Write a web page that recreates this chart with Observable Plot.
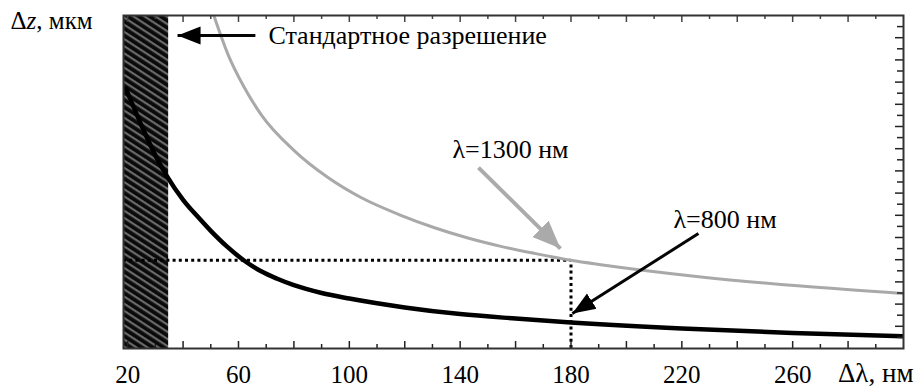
<!DOCTYPE html>
<html><head><meta charset="utf-8">
<script src="https://cdn.jsdelivr.net/npm/d3@7"></script>
<script src="https://cdn.jsdelivr.net/npm/@observablehq/plot@0.6"></script>
<style>
html,body{margin:0;padding:0;background:#fff;}
#chart{width:914px;height:387px;}
#chart svg text, #chart svg tspan{font-family:"Liberation Serif","Tinos","DejaVu Serif","Noto Serif","Times New Roman",Times,serif !important;}
</style></head><body><div id="chart"></div>
<script>
// ---- data (Δz in arbitrary units, axis is unlabeled) ----
const dlBlack = [19.4, 25, 30, 34, 40, 45, 50, 56, 62, 68, 74, 80, 90, 100, 120, 140, 160, 180, 220, 260, 300];
const dzBlack = [23.4, 20.1, 17.4, 15.6, 13.4, 11.95, 10.6, 9.15, 7.93, 6.98, 6.28, 5.7, 5.0, 4.5, 3.7, 3.1, 2.7, 2.35, 1.8, 1.4, 1.1];
const dlGray = [51.1, 56.2, 61.9, 68.1, 80, 92.3, 104.2, 118.6, 130.5, 142.8, 154.7, 166.6, 180, 190.8, 226.9, 263, 300];
const dzGray = [30, 26.5, 23.6, 21.1, 17.85, 15.4, 13.6, 12.0, 10.9, 9.95, 9.2, 8.58, 7.95, 7.55, 6.45, 5.62, 4.95];
const standardRange = [18.5, 34.8];
const refDl = 180, refDz = 7.95;
const xDomain = [18.5, 300], yDomain = [0, 30];
const xTickLabels = [20, 60, 100, 140, 180, 220, 260];
const xMajorTicks = [20, 40, 60, 80, 100, 120, 140, 160, 180, 200, 220, 240, 260, 280];
const xMinorTicks = [30, 50, 70, 90, 110, 130, 150, 170, 190, 210, 230, 250, 270, 290];
const yTicks = d3.range(1, 30);
const annoText = ["Стандартное разрешение", "λ=1300 нм", "λ=800 нм"];
const annoX = [70.8, 137.2, 217];
const annoY = [28.2, 17.9, 11.58];
const blackArrows = [
  {x1: 66.1, y1: 28.2, x2: 38.0, y2: 28.2},
  {x1: 226, y1: 10.36, x2: 180.5, y2: 3.15}
];
const grayArrows = [
  {x1: 146.6, y1: 16.3, x2: 176.2, y2: 9.0}
];
const xTitle = "Δλ, нм", yTitle = "Δz, мкм";

// ---- layout ----
const W = 914, H = 387, mL = 123, mR = 11, mT = 15, mB = 39;
const pxX = (W - mL - mR) / (xDomain[1] - xDomain[0]);
const pxY = (H - mT - mB) / (yDomain[1] - yDomain[0]);
const black = dlBlack.map((x, i) => ({x, y: dzBlack[i]}));
const gray = dlGray.map((x, i) => ({x, y: dzGray[i]}));
const anno = annoText.map((t, i) => ({t, x: annoX[i], y: annoY[i]}));
const FONT = "Liberation Serif, Tinos, DejaVu Serif, Noto Serif, Times New Roman, serif";
const ARROW_BLACK = "#050505", ARROW_GRAY = "#ababab";

const chart = Plot.plot({
  width: W, height: H,
  marginLeft: mL, marginRight: mR, marginTop: mT, marginBottom: mB,
  style: {fontSize: "25px", background: "#fff", color: "#000", overflow: "visible"},
  x: {domain: xDomain},
  y: {domain: yDomain, axis: null},
  marks: [
    Plot.rect([standardRange], {x1: d => d[0], x2: d => d[1], y1: yDomain[0], y2: yDomain[1], fill: "url(#hatch)"}),
    Plot.ruleY([refDz], {x1: xDomain[0], x2: refDl, stroke: "#000", strokeWidth: 3, strokeDasharray: "3,3.2"}),
    Plot.ruleX([refDl], {y1: yDomain[0], y2: refDz, stroke: "#000", strokeWidth: 3, strokeDasharray: "3,3.2"}),
    Plot.line(gray, {x: "x", y: "y", stroke: "#a9a9a9", strokeWidth: 3, curve: "monotone-x", clip: true}),
    Plot.line(black, {x: "x", y: "y", stroke: "#000", strokeWidth: 4.5, curve: "monotone-x", clip: true}),
    Plot.ruleX(xMajorTicks, {y1: yDomain[0], y2: yDomain[0] + 7 / pxY, stroke: "#222", strokeWidth: 1.5}),
    Plot.ruleX(xMinorTicks, {y1: yDomain[0], y2: yDomain[0] + 4 / pxY, stroke: "#222", strokeWidth: 1.5}),
    Plot.ruleX(xMajorTicks, {y1: yDomain[1] - 7 / pxY, y2: yDomain[1], stroke: "#444", strokeWidth: 1.5}),
    Plot.ruleX(xMinorTicks, {y1: yDomain[1] - 4 / pxY, y2: yDomain[1], stroke: "#444", strokeWidth: 1.5}),
    Plot.ruleY(yTicks.filter(v => v % 2 === 0), {x1: xDomain[1] - 8 / pxX, x2: xDomain[1], stroke: "#222", strokeWidth: 1.5}),
    Plot.ruleY(yTicks.filter(v => v % 2 === 1), {x1: xDomain[1] - 6 / pxX, x2: xDomain[1], stroke: "#222", strokeWidth: 1.5}),
    Plot.frame({stroke: "#333", strokeWidth: 2}),
    Plot.axisX(xTickLabels, {tickSize: 0, tickPadding: 17, fontSize: 25, fontFamily: FONT, label: null, fill: "#000"}),
    Plot.link(blackArrows, {x1: "x1", y1: "y1", x2: "x2", y2: "y2", stroke: ARROW_BLACK, strokeWidth: 3}),
    Plot.link(grayArrows, {x1: "x1", y1: "y1", x2: "x2", y2: "y2", stroke: ARROW_GRAY, strokeWidth: 4}),
    Plot.text(anno, {x: "x", y: "y", text: "t", textAnchor: "start", lineAnchor: "middle", fontSize: 26, fontFamily: FONT, fill: "#000"}),
    Plot.text([xTitle], {frameAnchor: "bottom-right", dx: 10, dy: 25, textAnchor: "end", lineAnchor: "middle", fontSize: 27, fontFamily: FONT, fill: "#000"}),
    Plot.text([yTitle], {frameAnchor: "top-left", dx: -113, dy: 5, textAnchor: "start", lineAnchor: "middle", fontSize: 25, fontFamily: FONT, fill: "#000"})
  ]
});

const defs = document.createElementNS("http://www.w3.org/2000/svg", "defs");
defs.innerHTML = `
<pattern id="hatch" patternUnits="userSpaceOnUse" width="6" height="6" patternTransform="rotate(33)">
  <rect width="6" height="6" fill="#0a0a0a"></rect>
  <rect y="0" width="6" height="2.2" fill="#6a6a6a"></rect>
</pattern>
<marker id="headBlack" viewBox="0 -10 24 20" refX="23" refY="0" markerWidth="24" markerHeight="20" markerUnits="userSpaceOnUse" orient="auto">
  <path d="M0,-9L23,0L0,9Z" fill="#000"></path>
</marker>
<marker id="headGray" viewBox="0 -12 29 24" refX="28" refY="0" markerWidth="29" markerHeight="24" markerUnits="userSpaceOnUse" orient="auto">
  <path d="M0,-11.5L28,0L0,11.5Z" fill="#aaaaaa"></path>
</marker>`;
chart.insertBefore(defs, chart.firstChild);
chart.setAttribute("font-family", FONT);
chart.querySelectorAll("g").forEach(g => {
  const s = g.getAttribute("stroke");
  if (s === ARROW_BLACK) g.querySelectorAll("path").forEach(p => p.setAttribute("marker-end", "url(#headBlack)"));
  if (s === ARROW_GRAY) g.querySelectorAll("path").forEach(p => p.setAttribute("marker-end", "url(#headGray)"));
});
chart.querySelectorAll("text").forEach(t => {
  t.setAttribute("font-family", FONT);
  if (t.textContent === yTitle) t.innerHTML = 'Δ<tspan font-style="italic">z</tspan>, мкм';
});
document.getElementById("chart").appendChild(chart);
</script>
</body></html>
